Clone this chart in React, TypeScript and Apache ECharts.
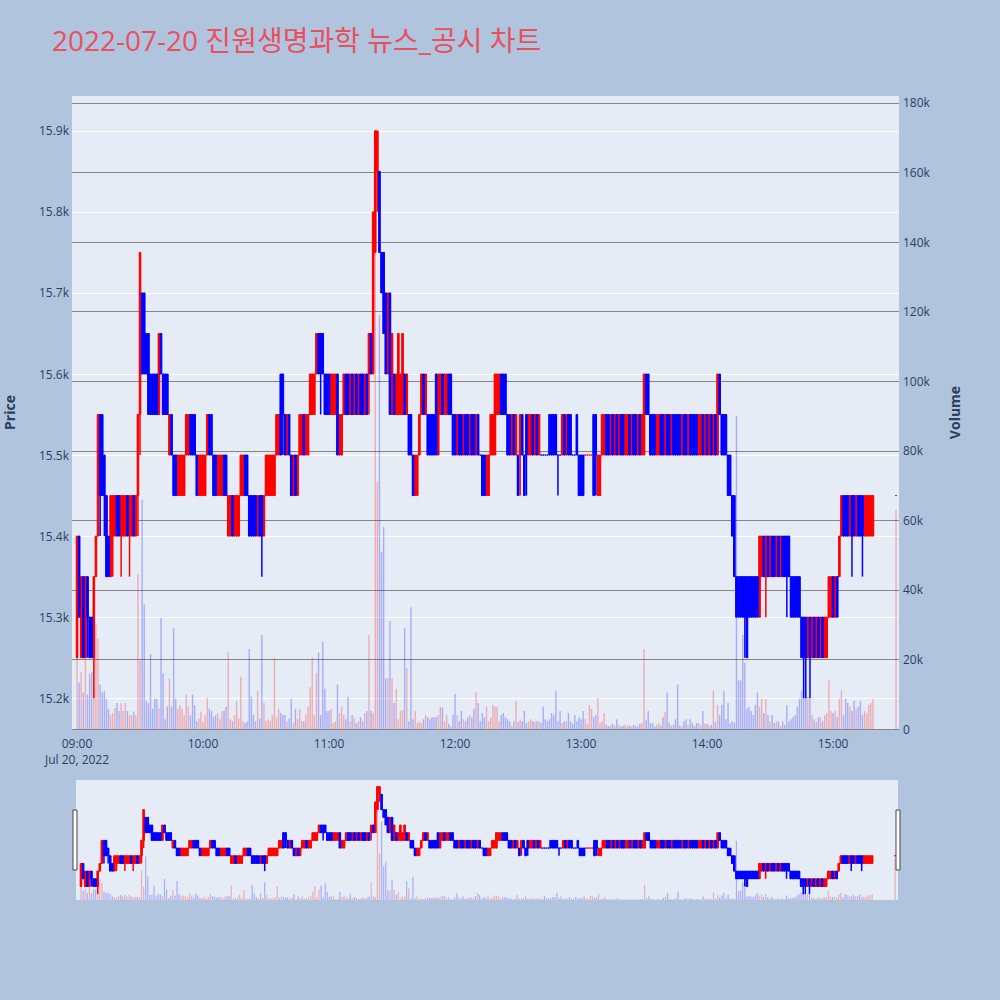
import React, { useEffect, useRef } from "react";
import * as echarts from "echarts";

const titleText = "2022-07-20 진원생명과학 뉴스_공시 차트";
const dateLabel = "Jul 20, 2022";
const timeTickMinutes = [0, 60, 120, 180, 240, 300, 360];
const timeTickLabels = ["09:00", "10:00", "11:00", "12:00", "13:00", "14:00", "15:00"];
const priceTicks = [15200, 15300, 15400, 15500, 15600, 15700, 15800, 15900];
const priceTickLabels = ["15.2k", "15.3k", "15.4k", "15.5k", "15.6k", "15.7k", "15.8k", "15.9k"];
const volumeTicks = [0, 20000, 40000, 60000, 80000, 100000, 120000, 140000, 160000, 180000];
const volumeTickLabels = ["0", "20k", "40k", "60k", "80k", "100k", "120k", "140k", "160k", "180k"];

// minute offset (from 09:00) of the first candle in each hourly block
const hourStartMinutes = [0, 60, 120, 180, 240, 300, 360];

// [open, close, low, high] per minute
const candles0900 = [
  [15250, 15400, 15250, 15400], [15400, 15300, 15300, 15400], [15250, 15350, 15250, 15350], [15350, 15250, 15250, 15350],
  [15250, 15350, 15250, 15350], [15350, 15300, 15250, 15350], [15300, 15250, 15250, 15300], [15300, 15250, 15250, 15300],
  [15250, 15350, 15200, 15350], [15350, 15400, 15350, 15400], [15400, 15550, 15400, 15550], [15550, 15450, 15400, 15550],
  [15550, 15450, 15450, 15550], [15500, 15450, 15400, 15500], [15450, 15350, 15350, 15450], [15400, 15350, 15350, 15400],
  [15350, 15450, 15350, 15450], [15400, 15450, 15350, 15450], [15400, 15450, 15400, 15450], [15450, 15400, 15400, 15450],
  [15450, 15400, 15400, 15450], [15400, 15450, 15350, 15450], [15400, 15450, 15400, 15450], [15400, 15450, 15400, 15450],
  [15450, 15400, 15400, 15450], [15400, 15450, 15350, 15450], [15400, 15450, 15400, 15450], [15450, 15400, 15400, 15450],
  [15400, 15450, 15400, 15450], [15450, 15550, 15400, 15550], [15550, 15750, 15500, 15750], [15700, 15600, 15600, 15700],
  [15700, 15600, 15600, 15700], [15650, 15600, 15600, 15650], [15650, 15550, 15550, 15650], [15600, 15550, 15550, 15600],
  [15600, 15550, 15550, 15600], [15600, 15550, 15550, 15600], [15600, 15550, 15550, 15600], [15550, 15650, 15550, 15650],
  [15650, 15600, 15600, 15650], [15600, 15550, 15550, 15600], [15600, 15550, 15550, 15600], [15600, 15550, 15550, 15600],
  [15500, 15550, 15500, 15550], [15550, 15500, 15500, 15550], [15500, 15450, 15450, 15500], [15500, 15450, 15450, 15500],
  [15450, 15500, 15450, 15500], [15450, 15500, 15450, 15500], [15450, 15500, 15450, 15500], [15450, 15500, 15450, 15500],
  [15500, 15550, 15500, 15550], [15500, 15550, 15500, 15550], [15550, 15500, 15500, 15550], [15550, 15500, 15500, 15550],
  [15550, 15500, 15500, 15550], [15500, 15450, 15450, 15500], [15450, 15500, 15450, 15500], [15450, 15500, 15450, 15500],
];
const candles1000 = [
  [15450, 15500, 15450, 15500], [15450, 15500, 15450, 15500], [15500, 15550, 15500, 15550], [15550, 15500, 15500, 15550],
  [15550, 15500, 15500, 15550], [15500, 15450, 15450, 15500], [15500, 15450, 15450, 15500], [15450, 15500, 15450, 15500],
  [15450, 15500, 15450, 15500], [15450, 15500, 15450, 15500], [15500, 15450, 15450, 15500], [15500, 15450, 15450, 15500],
  [15400, 15450, 15400, 15450], [15400, 15450, 15400, 15450], [15450, 15400, 15400, 15450], [15400, 15450, 15400, 15450],
  [15400, 15450, 15400, 15450], [15400, 15450, 15400, 15450], [15450, 15500, 15450, 15500], [15450, 15500, 15450, 15500],
  [15500, 15450, 15450, 15500], [15500, 15450, 15450, 15500], [15450, 15400, 15400, 15450], [15450, 15400, 15400, 15450],
  [15450, 15400, 15400, 15450], [15450, 15400, 15400, 15450], [15400, 15450, 15400, 15450], [15450, 15400, 15400, 15450],
  [15450, 15400, 15350, 15450], [15400, 15450, 15400, 15450], [15450, 15500, 15450, 15500], [15450, 15500, 15450, 15500],
  [15450, 15500, 15450, 15500], [15450, 15500, 15450, 15500], [15450, 15500, 15450, 15500], [15500, 15550, 15500, 15550],
  [15500, 15550, 15500, 15550], [15600, 15500, 15500, 15600], [15600, 15550, 15500, 15600], [15550, 15500, 15500, 15550],
  [15500, 15550, 15500, 15550], [15550, 15500, 15500, 15550], [15500, 15450, 15450, 15500], [15450, 15500, 15450, 15500],
  [15500, 15450, 15450, 15500], [15450, 15500, 15450, 15500], [15500, 15550, 15500, 15550], [15500, 15550, 15500, 15550],
  [15550, 15500, 15500, 15550], [15500, 15550, 15500, 15550], [15500, 15550, 15500, 15550], [15550, 15600, 15550, 15600],
  [15550, 15600, 15550, 15600], [15550, 15600, 15550, 15600], [15600, 15650, 15600, 15650], [15650, 15600, 15600, 15650],
  [15650, 15600, 15550, 15650], [15650, 15600, 15600, 15650], [15600, 15550, 15550, 15600], [15600, 15550, 15550, 15600],
];
const candles1100 = [
  [15600, 15550, 15550, 15600], [15550, 15600, 15550, 15600], [15550, 15600, 15550, 15600], [15550, 15600, 15550, 15600],
  [15600, 15500, 15500, 15600], [15500, 15550, 15500, 15550], [15500, 15550, 15500, 15550], [15550, 15600, 15550, 15600],
  [15600, 15550, 15550, 15600], [15600, 15550, 15550, 15600], [15550, 15600, 15550, 15600], [15600, 15550, 15550, 15600],
  [15550, 15600, 15550, 15600], [15600, 15550, 15550, 15600], [15550, 15600, 15550, 15600], [15600, 15550, 15550, 15600],
  [15600, 15550, 15550, 15600], [15550, 15600, 15550, 15600], [15600, 15550, 15550, 15600], [15600, 15650, 15550, 15650],
  [15650, 15600, 15600, 15650], [15600, 15800, 15600, 15800], [15750, 15900, 15750, 15900], [15850, 15900, 15800, 15900],
  [15850, 15750, 15750, 15850], [15750, 15700, 15700, 15750], [15750, 15650, 15650, 15750], [15700, 15600, 15600, 15700],
  [15600, 15700, 15600, 15700], [15700, 15550, 15550, 15700], [15550, 15650, 15550, 15650], [15600, 15550, 15550, 15600],
  [15550, 15600, 15550, 15600], [15550, 15650, 15550, 15650], [15550, 15600, 15550, 15600], [15550, 15650, 15550, 15650],
  [15600, 15550, 15550, 15600], [15550, 15600, 15550, 15600], [15550, 15500, 15500, 15550], [15550, 15500, 15500, 15550],
  [15500, 15450, 15450, 15500], [15450, 15500, 15450, 15500], [15450, 15500, 15450, 15500], [15500, 15550, 15500, 15550],
  [15550, 15600, 15550, 15600], [15600, 15550, 15550, 15600], [15550, 15600, 15550, 15600], [15550, 15500, 15500, 15550],
  [15550, 15500, 15500, 15550], [15550, 15500, 15500, 15550], [15550, 15500, 15500, 15550], [15600, 15500, 15500, 15600],
  [15500, 15600, 15500, 15600], [15550, 15600, 15550, 15600], [15600, 15550, 15550, 15600], [15550, 15600, 15550, 15600],
  [15550, 15600, 15550, 15600], [15600, 15550, 15550, 15600], [15600, 15550, 15550, 15600], [15550, 15500, 15500, 15550],
];
const candles1200 = [
  [15550, 15500, 15500, 15550], [15500, 15550, 15500, 15550], [15550, 15500, 15500, 15550], [15550, 15500, 15500, 15550],
  [15500, 15550, 15500, 15550], [15550, 15500, 15500, 15550], [15550, 15500, 15500, 15550], [15500, 15550, 15500, 15550],
  [15550, 15500, 15500, 15550], [15550, 15500, 15500, 15550], [15500, 15550, 15500, 15550], [15550, 15500, 15500, 15550],
  [15500, 15500, 15500, 15500], [15500, 15450, 15450, 15500], [15500, 15450, 15450, 15500], [15450, 15500, 15450, 15500],
  [15450, 15500, 15450, 15500], [15500, 15550, 15500, 15550], [15500, 15550, 15500, 15550], [15500, 15600, 15500, 15600],
  [15550, 15600, 15550, 15600], [15550, 15600, 15550, 15600], [15600, 15550, 15550, 15600], [15600, 15550, 15550, 15600],
  [15600, 15550, 15550, 15600], [15550, 15500, 15500, 15550], [15550, 15500, 15500, 15550], [15500, 15550, 15500, 15550],
  [15550, 15500, 15500, 15550], [15500, 15550, 15500, 15550], [15500, 15450, 15450, 15500], [15500, 15550, 15450, 15550],
  [15550, 15500, 15500, 15550], [15500, 15450, 15450, 15500], [15550, 15500, 15450, 15550], [15500, 15550, 15500, 15550],
  [15500, 15550, 15500, 15550], [15550, 15500, 15500, 15550], [15500, 15550, 15500, 15550], [15550, 15500, 15500, 15550],
  [15500, 15550, 15500, 15550], [15500, 15500, 15500, 15500], [15500, 15500, 15500, 15500], [15500, 15500, 15500, 15500],
  [15500, 15500, 15500, 15500], [15550, 15500, 15500, 15550], [15550, 15500, 15500, 15550], [15550, 15500, 15500, 15550],
  [15550, 15500, 15500, 15550], [15500, 15500, 15450, 15500], [15500, 15500, 15500, 15500], [15500, 15550, 15500, 15550],
  [15550, 15500, 15500, 15550], [15500, 15550, 15500, 15550], [15550, 15500, 15500, 15550], [15550, 15500, 15500, 15550],
  [15500, 15500, 15500, 15500], [15500, 15500, 15500, 15500], [15550, 15500, 15500, 15550], [15500, 15450, 15450, 15500],
];
const candles1300 = [
  [15500, 15450, 15450, 15500], [15500, 15450, 15450, 15500], [15500, 15500, 15500, 15500], [15500, 15500, 15500, 15500],
  [15500, 15500, 15500, 15500], [15500, 15500, 15500, 15500], [15550, 15450, 15450, 15550], [15550, 15500, 15450, 15550],
  [15450, 15500, 15450, 15500], [15450, 15500, 15450, 15500], [15500, 15550, 15500, 15550], [15500, 15550, 15500, 15550],
  [15550, 15500, 15500, 15550], [15550, 15500, 15500, 15550], [15500, 15550, 15500, 15550], [15550, 15500, 15500, 15550],
  [15500, 15550, 15500, 15550], [15550, 15500, 15500, 15550], [15500, 15550, 15500, 15550], [15550, 15500, 15500, 15550],
  [15550, 15500, 15500, 15550], [15500, 15550, 15500, 15550], [15500, 15550, 15500, 15550], [15550, 15500, 15500, 15550],
  [15500, 15550, 15500, 15550], [15550, 15500, 15500, 15550], [15550, 15500, 15500, 15550], [15500, 15550, 15500, 15550],
  [15550, 15500, 15500, 15550], [15500, 15550, 15500, 15550], [15500, 15600, 15500, 15600], [15600, 15550, 15550, 15600],
  [15600, 15550, 15550, 15600], [15550, 15500, 15500, 15550], [15550, 15500, 15500, 15550], [15550, 15500, 15500, 15550],
  [15500, 15550, 15500, 15550], [15500, 15550, 15500, 15550], [15550, 15500, 15500, 15550], [15550, 15500, 15500, 15550],
  [15500, 15550, 15500, 15550], [15550, 15500, 15500, 15550], [15550, 15500, 15500, 15550], [15500, 15550, 15500, 15550],
  [15550, 15500, 15500, 15550], [15550, 15500, 15500, 15550], [15550, 15500, 15500, 15550], [15550, 15500, 15500, 15550],
  [15500, 15550, 15500, 15550], [15550, 15500, 15500, 15550], [15550, 15500, 15500, 15550], [15500, 15550, 15500, 15550],
  [15550, 15500, 15500, 15550], [15550, 15500, 15500, 15550], [15550, 15500, 15500, 15550], [15550, 15500, 15500, 15550],
  [15500, 15550, 15500, 15550], [15500, 15550, 15500, 15550], [15550, 15500, 15500, 15550], [15500, 15550, 15500, 15550],
];
const candles1400 = [
  [15550, 15500, 15500, 15550], [15500, 15550, 15500, 15550], [15550, 15500, 15500, 15550], [15500, 15550, 15500, 15550],
  [15550, 15500, 15500, 15550], [15500, 15600, 15500, 15600], [15600, 15550, 15550, 15600], [15550, 15500, 15500, 15550],
  [15550, 15500, 15500, 15550], [15550, 15500, 15500, 15550], [15500, 15450, 15450, 15500], [15500, 15450, 15450, 15500],
  [15450, 15400, 15400, 15450], [15450, 15350, 15350, 15450], [15350, 15300, 15300, 15350], [15350, 15300, 15300, 15350],
  [15350, 15300, 15300, 15350], [15350, 15300, 15300, 15350], [15350, 15300, 15250, 15350], [15350, 15250, 15250, 15350],
  [15350, 15300, 15300, 15350], [15350, 15300, 15300, 15350], [15350, 15300, 15300, 15350], [15350, 15300, 15300, 15350],
  [15350, 15300, 15300, 15350], [15300, 15400, 15300, 15400], [15350, 15400, 15350, 15400], [15400, 15350, 15350, 15400],
  [15350, 15400, 15300, 15400], [15400, 15350, 15350, 15400], [15350, 15400, 15350, 15400], [15400, 15350, 15350, 15400],
  [15400, 15350, 15350, 15400], [15350, 15400, 15350, 15400], [15400, 15350, 15350, 15400], [15350, 15400, 15350, 15400],
  [15400, 15350, 15350, 15400], [15400, 15350, 15350, 15400], [15400, 15350, 15300, 15400], [15400, 15350, 15350, 15400],
  [15350, 15300, 15300, 15350], [15350, 15300, 15300, 15350], [15350, 15300, 15300, 15350], [15350, 15300, 15300, 15350],
  [15350, 15300, 15300, 15350], [15300, 15250, 15250, 15300], [15300, 15250, 15200, 15300], [15300, 15250, 15200, 15300],
  [15250, 15300, 15250, 15300], [15300, 15250, 15200, 15300], [15250, 15300, 15250, 15300], [15300, 15250, 15250, 15300],
  [15250, 15300, 15250, 15300], [15300, 15250, 15250, 15300], [15250, 15300, 15250, 15300], [15300, 15250, 15250, 15300],
  [15250, 15300, 15250, 15300], [15250, 15300, 15250, 15300], [15300, 15350, 15300, 15350], [15300, 15350, 15300, 15350],
];
const candles1500 = [
  [15350, 15300, 15300, 15350], [15300, 15350, 15300, 15350], [15350, 15300, 15300, 15350], [15350, 15400, 15350, 15400],
  [15400, 15450, 15400, 15450], [15450, 15400, 15400, 15450], [15450, 15400, 15400, 15450], [15450, 15400, 15400, 15450],
  [15400, 15450, 15400, 15450], [15450, 15400, 15350, 15450], [15450, 15400, 15400, 15450], [15400, 15450, 15400, 15450],
  [15450, 15400, 15400, 15450], [15450, 15400, 15400, 15450], [15450, 15400, 15350, 15450], [15400, 15450, 15400, 15450],
  [15400, 15450, 15400, 15450], [15400, 15450, 15400, 15450], [15400, 15450, 15400, 15450], [15400, 15450, 15400, 15450],
];
// 15:30 closing auction
const closingMinute = 390;
const closingCandle = [15450, 15450, 15450, 15450];

// volume per minute
const volumes0900 = [
  20500, 13400, 16300, 10500, 20500, 9900, 15800, 16300, 38000, 30000,
  26000, 12800, 10500, 11000, 8700, 5800, 4000, 4600, 6000, 7500,
  5200, 7500, 5200, 7500, 5200, 4000, 4000, 5000, 4000, 44600,
  20000, 66000, 35800, 8100, 7500, 21600, 5800, 8700, 8700, 6000,
  32000, 16000, 2800, 6400, 14600, 6400, 29000, 8700, 5800, 6900,
  5800, 4000, 9900, 6400, 4000, 9900, 6900, 2200, 3000, 5000,
];
const volumes1000 = [
  2000, 4000, 9000, 5800, 5200, 3400, 4000, 4600, 2800, 5200,
  5200, 6400, 22000, 2800, 2200, 4000, 8100, 3000, 15000, 2200,
  1700, 2200, 23000, 9300, 4000, 2200, 11000, 3000, 27000, 7500,
  2200, 2800, 2200, 4000, 20500, 3400, 5800, 4600, 4000, 4000,
  2200, 3000, 8700, 1700, 5800, 3000, 5800, 2200, 2200, 4000,
  6400, 12000, 20500, 4000, 16000, 22000, 4000, 25000, 11600, 5200,
];
const volumes1100 = [
  5200, 5800, 1700, 2200, 12800, 4600, 6400, 4000, 2800, 9300,
  2200, 4000, 3000, 1700, 2200, 3400, 2200, 4600, 5200, 27000,
  5200, 4600, 172000, 71000, 119000, 51000, 58000, 14600, 14600, 31000,
  14600, 7500, 11600, 2800, 5200, 5400, 29000, 17500, 2200, 35000,
  2800, 5200, 1700, 2200, 1700, 2800, 4000, 3400, 2800, 3400,
  3400, 3400, 4000, 6400, 6200, 2200, 4000, 1500, 700, 4000,
];
const volumes1200 = [
  10000, 4000, 2200, 5200, 2800, 2200, 3400, 4000, 3400, 5800,
  10500, 7500, 2200, 4600, 3400, 6400, 2200, 3400, 6900, 6400,
  6400, 2200, 4000, 4600, 3400, 2800, 2200, 1000, 2200, 8100,
  2000, 2800, 2200, 5200, 1700, 2200, 2800, 2200, 2200, 2200,
  2200, 1700, 6400, 2800, 2200, 2800, 4600, 4000, 11000, 2200,
  5200, 1700, 2200, 2200, 4600, 2200, 1500, 4000, 2200, 3400,
];
const volumes1300 = [
  2800, 5200, 2800, 1500, 6900, 5800, 3400, 4000, 9000, 1700,
  2200, 4600, 1200, 800, 1000, 1500, 900, 2800, 1200, 700,
  900, 1200, 800, 1000, 700, 1200, 900, 800, 1500, 1800,
  23000, 2500, 5200, 1700, 1700, 800, 1200, 1700, 900, 3400,
  4900, 10500, 1700, 1000, 1200, 2800, 12800, 1000, 800, 2200,
  2800, 1200, 2800, 1700, 900, 1700, 1700, 1000, 5200, 1500,
];
const volumes1400 = [
  1500, 1000, 1200, 11000, 2000, 6900, 4000, 6900, 11000, 2800,
  7500, 1500, 2200, 1800, 90000, 14000, 14000, 27000, 19000, 5800,
  6400, 5200, 4000, 6900, 10500, 6400, 8700, 4600, 8700, 4000,
  2200, 4000, 1700, 2200, 2200, 1000, 2200, 1200, 6900, 2200,
  2800, 3400, 4000, 6400, 8700, 11000, 21000, 9900, 9300, 8700,
  4000, 2800, 2000, 3400, 3400, 2200, 4000, 4600, 14000, 5200,
];
const volumes1500 = [
  4600, 5200, 3400, 8700, 11000, 4000, 8700, 7500, 6400, 5200,
  8100, 5800, 6400, 8100, 4000, 5200, 4600, 6900, 7500, 8700,
];
const closingVolume = 63000;

const candleBlocks = [candles0900, candles1000, candles1100, candles1200, candles1300, candles1400, candles1500];
const volumeBlocks = [volumes0900, volumes1000, volumes1100, volumes1200, volumes1300, volumes1400, volumes1500];

const UP = "#ff0000";
const DOWN = "#0000ff";
const UP_VOL = "rgba(255,0,0,0.27)";
const DOWN_VOL = "rgba(0,0,255,0.27)";
const FONT = '"Open Sans", "Noto Sans CJK KR", sans-serif';
const INK = "#2a3f5f";

const X_MIN = -2.4;
const X_MAX = 391.4;
const P_MIN = 15162;
const P_MAX = 15943;
const V_MAX = 182000;

type Row = { m: number; o: number; c: number; l: number; h: number; v: number; up: boolean };

function buildRows(): Row[] {
  const rows: Row[] = [];
  candleBlocks.forEach((block, bi) => {
    block.forEach((k, i) => {
      rows.push({ m: hourStartMinutes[bi] + i, o: k[0], c: k[1], l: k[2], h: k[3], v: volumeBlocks[bi][i], up: true });
    });
  });
  rows.push({ m: closingMinute, o: closingCandle[0], c: closingCandle[1], l: closingCandle[2], h: closingCandle[3], v: closingVolume, up: true });
  let prevClose: number | null = null;
  let prevUp = true;
  rows.forEach((r) => {
    let up: boolean;
    if (r.c > r.o) up = true;
    else if (r.c < r.o) up = false;
    else if (prevClose !== null && r.c !== prevClose) up = r.c > prevClose;
    else up = prevUp;
    r.up = up;
    prevClose = r.c;
    prevUp = up;
  });
  return rows;
}

function candleSeries(data: number[][], color: string, xi: number, yi: number, bodyW: number, wickW: number) {
  return {
    type: "custom",
    xAxisIndex: xi,
    yAxisIndex: yi,
    data,
    encode: { x: 0, y: [1, 2, 3, 4] },
    clip: true,
    silent: true,
    z: 3,
    renderItem: (params: any, api: any) => {
      const m = api.value(0);
      const o = api.value(1);
      const c = api.value(2);
      const l = api.value(3);
      const h = api.value(4);
      const top = api.coord([m, Math.max(o, c)]);
      const bot = api.coord([m, Math.min(o, c)]);
      const hi = api.coord([m, h]);
      const lo = api.coord([m, l]);
      return {
        type: "group",
        children: [
          {
            type: "line",
            shape: { x1: hi[0], y1: hi[1], x2: lo[0], y2: lo[1] },
            style: { stroke: color, lineWidth: wickW },
          },
          {
            type: "rect",
            shape: { x: top[0] - bodyW / 2, y: top[1], width: bodyW, height: Math.max(bot[1] - top[1], 0) },
            style: { fill: color, stroke: color, lineWidth: 1 },
          },
        ],
      };
    },
  };
}

function volumeSeries(data: number[][], color: string, xi: number, yi: number, width: number) {
  return {
    type: "bar",
    xAxisIndex: xi,
    yAxisIndex: yi,
    data,
    barWidth: width,
    barGap: "-100%",
    itemStyle: { color },
    emphasis: { disabled: true },
    silent: true,
    z: 1,
  };
}

export default function App() {
  const ref = useRef<HTMLDivElement>(null);
  useEffect(() => {
    if (!ref.current) return;
    const chart = echarts.init(ref.current, undefined, { renderer: "svg" });
    const rows = buildRows();
    const upRows = rows.filter((r) => r.up);
    const downRows = rows.filter((r) => !r.up);
    const upCandles = upRows.map((r) => [r.m, r.o, r.c, r.l, r.h]);
    const downCandles = downRows.map((r) => [r.m, r.o, r.c, r.l, r.h]);
    const upVols = upRows.map((r) => [r.m, r.v]);
    const downVols = downRows.map((r) => [r.m, r.v]);
    const timeFmt = (v: number) => {
      const i = timeTickMinutes.indexOf(Math.round(v));
      if (i < 0) return "";
      return i === 0 ? timeTickLabels[i] + "\n" + dateLabel : timeTickLabels[i];
    };
    const priceFmt = (v: number) => {
      const i = priceTicks.indexOf(Math.round(v));
      return i < 0 ? "" : priceTickLabels[i];
    };
    const volFmt = (v: number) => {
      const i = volumeTicks.indexOf(Math.round(v));
      return i < 0 ? "" : volumeTickLabels[i];
    };
    const option: any = {
      animation: false,
      backgroundColor: "#b0c4de",
      textStyle: { fontFamily: FONT },
      title: {
        text: titleText,
        left: 47,
        top: 21,
        textStyle: { color: "#e8505f", fontSize: 28, fontWeight: "normal", fontFamily: FONT },
      },
      grid: [
        { left: 72, top: 96, width: 827, height: 633, show: true, backgroundColor: "#e5ecf6", borderWidth: 0, outerBoundsMode: "none", containLabel: false },
        { left: 76, top: 780, width: 822, height: 120, show: true, backgroundColor: "#e5ecf6", borderWidth: 0, outerBoundsMode: "none", containLabel: false },
      ],
      xAxis: [
        {
          type: "value",
          gridIndex: 0,
          min: X_MIN,
          max: X_MAX,
          axisLine: { show: false },
          axisTick: { show: false, customValues: timeTickMinutes },
          splitLine: { show: false },
          axisLabel: { customValues: timeTickMinutes, formatter: timeFmt, color: INK, fontSize: 12, margin: 6, lineHeight: 16, fontFamily: FONT },
        },
        { type: "value", gridIndex: 1, min: X_MIN, max: X_MAX, show: false, splitLine: { show: false } },
      ],
      yAxis: [
        {
          type: "value",
          gridIndex: 0,
          position: "left",
          min: P_MIN,
          max: P_MAX,
          name: "Price",
          nameLocation: "middle",
          nameGap: 56,
          nameRotate: 90,
          nameTextStyle: { fontWeight: "bold", fontSize: 14, color: INK, fontFamily: FONT },
          axisLine: { show: false },
          axisTick: { show: false, customValues: priceTicks },
          axisLabel: { customValues: priceTicks, formatter: priceFmt, color: INK, fontSize: 12, margin: 3, fontFamily: FONT },
          splitLine: { show: true, lineStyle: { color: "#ffffff", width: 1 } },
        },
        {
          type: "value",
          gridIndex: 0,
          position: "right",
          min: 0,
          max: V_MAX,
          name: "Volume",
          nameLocation: "middle",
          nameGap: 48,
          nameRotate: 90,
          nameTextStyle: { fontWeight: "bold", fontSize: 14, color: INK, fontFamily: FONT },
          axisLine: { show: false },
          axisTick: { show: false, customValues: volumeTicks },
          axisLabel: { customValues: volumeTicks, formatter: volFmt, color: INK, fontSize: 12, margin: 4, fontFamily: FONT },
          splitLine: { show: true, lineStyle: { color: "#858585", width: 1 } },
        },
        { type: "value", gridIndex: 1, min: P_MIN, max: P_MAX, show: false, splitLine: { show: false } },
        { type: "value", gridIndex: 1, min: 0, max: V_MAX, show: false, splitLine: { show: false } },
      ],
      series: [
        volumeSeries(upVols, UP_VOL, 0, 1, 1.4),
        volumeSeries(downVols, DOWN_VOL, 0, 1, 1.4),
        candleSeries(upCandles, UP, 0, 0, 1.6, 1.5),
        candleSeries(downCandles, DOWN, 0, 0, 1.6, 1.5),
        volumeSeries(upVols, UP_VOL, 1, 3, 1.2),
        volumeSeries(downVols, DOWN_VOL, 1, 3, 1.2),
        candleSeries(upCandles, UP, 1, 2, 1.6, 1.5),
        candleSeries(downCandles, DOWN, 1, 2, 1.6, 1.5),
      ],
      graphic: [
        { type: "rect", shape: { x: 73, y: 810, width: 4, height: 60 }, style: { fill: "#ffffff", stroke: "#444444", lineWidth: 1 }, z: 10 },
        { type: "rect", shape: { x: 896, y: 810, width: 4, height: 60 }, style: { fill: "#ffffff", stroke: "#444444", lineWidth: 1 }, z: 10 },
      ],
    };
    chart.setOption(option);
    return () => chart.dispose();
  }, []);
  return <div ref={ref} style={{ position: "absolute", left: 0, top: 0, width: 1000, height: 1000 }} />;
}
